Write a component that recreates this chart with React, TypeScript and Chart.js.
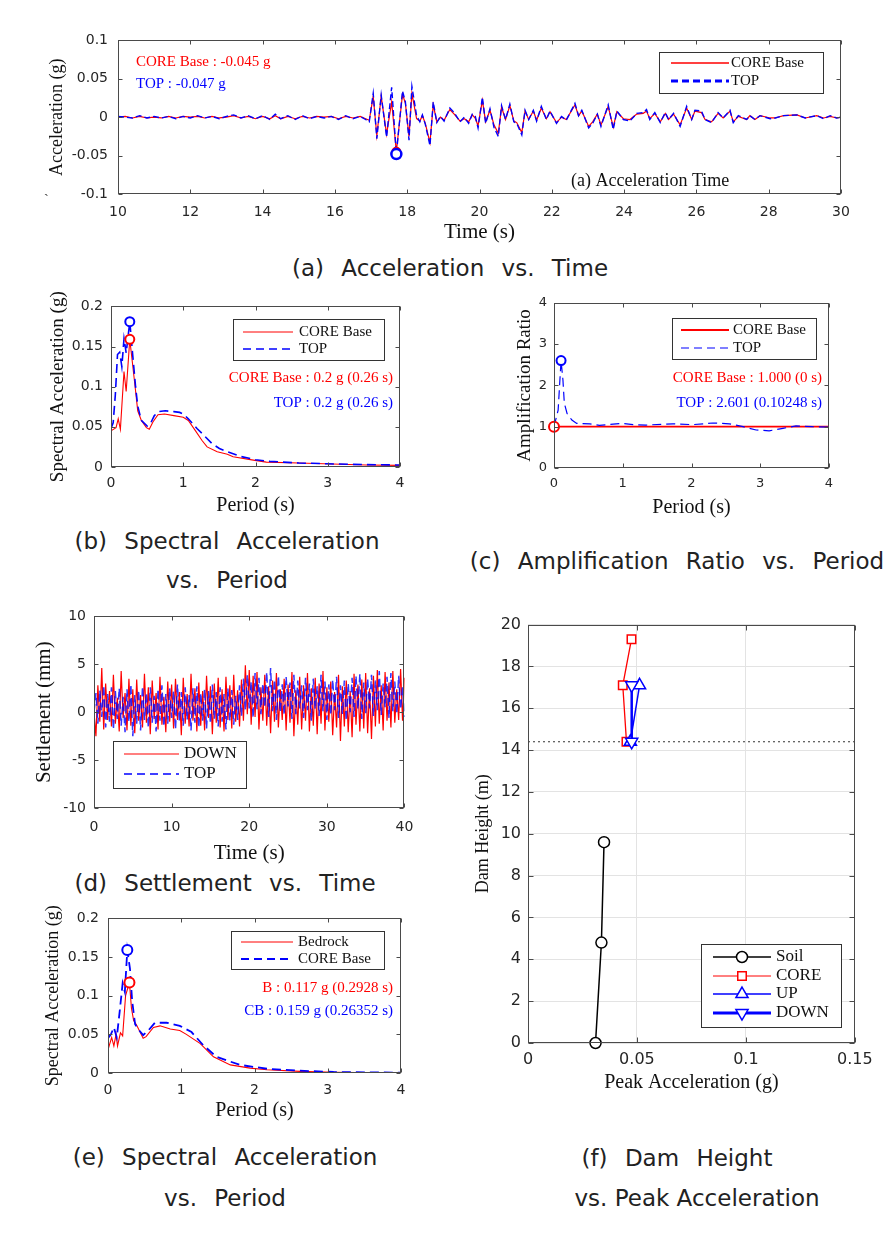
import React, { useEffect, useRef } from "react";
import { Chart, registerables } from "chart.js";

Chart.register(...registerables);

// ================= DATA =================
// (a) Acceleration vs. Time
const accelTime = [
  10.0, 10.2, 10.4, 10.6, 10.8, 11.0, 11.2, 11.4, 11.6, 11.8,
  12.0, 12.2, 12.4, 12.6, 12.8, 13.0, 13.2, 13.4, 13.6, 13.8,
  14.0, 14.2, 14.35, 14.5, 14.7, 14.9, 15.1, 15.3, 15.5, 15.7,
  15.9, 16.1, 16.3, 16.5, 16.7, 16.85,
  16.95, 17.06, 17.16, 17.28, 17.43, 17.57, 17.70, 17.87, 17.95, 18.05,
  18.13, 18.26, 18.35, 18.42, 18.50, 18.63, 18.72, 18.82, 18.92, 19.02,
  19.18, 19.30, 19.46, 19.58, 19.70, 19.80, 19.88, 19.96, 20.08, 20.17,
  20.29, 20.40, 20.52, 20.61, 20.72, 20.84, 20.95, 21.03, 21.17, 21.26,
  21.36, 21.49, 21.58, 21.71, 21.85, 21.95, 22.13, 22.27, 22.40, 22.64,
  22.74, 22.83, 23.02, 23.13, 23.26, 23.36, 23.56, 23.70, 23.80, 23.98,
  24.16, 24.35, 24.53, 24.62, 24.71, 24.85, 25.00, 25.14, 25.23, 25.37,
  25.55, 25.73, 25.87, 25.96, 26.14, 26.24, 26.42, 26.60, 26.74, 26.93,
  27.02, 27.16, 27.39, 27.48, 27.62, 27.76, 28.04, 28.18, 28.41, 28.78,
  29.01, 29.33, 29.52, 29.70, 29.88, 30.00,
];
const accelCoreBase = [
  0.000, 0.001, -0.001, 0.001, -0.001, 0.000, -0.001, 0.001, -0.001, 0.001,
  0.000, 0.001, -0.001, 0.001, -0.001, 0.000, 0.002, -0.001, 0.001, -0.002,
  0.001, -0.002, 0.002, -0.002, 0.001, -0.002, 0.001, -0.001, 0.001, 0.000,
  0.001, -0.002, 0.001, -0.001, 0.001, -0.002,
  -0.004, 0.027, -0.024, 0.027, -0.022, 0.020, -0.045, 0.030, 0.018, -0.025,
  0.031, -0.002, -0.005, 0.002, -0.008, -0.033, 0.016, -0.006, 0.000, -0.004,
  0.010, 0.004, -0.005, -0.002, -0.006, 0.003, -0.001, -0.011, 0.022, -0.006,
  0.009, -0.010, -0.021, 0.013, -0.003, 0.015, -0.005, -0.007, -0.020, 0.008,
  -0.003, 0.008, -0.004, 0.012, -0.002, 0.007, -0.007, 0.000, -0.003, 0.016,
  0.002, 0.008, -0.012, -0.006, 0.004, -0.010, 0.014, -0.013, 0.007, -0.002,
  -0.003, 0.004, 0.005, 0.008, -0.002, 0.005, -0.006, 0.005, -0.003, 0.004,
  -0.010, 0.012, -0.003, 0.008, 0.006, -0.003, -0.006, 0.005, -0.001, 0.008,
  -0.006, 0.001, -0.003, 0.002, -0.003, 0.002, -0.001, -0.001, 0.002, 0.003,
  -0.001, 0.002, -0.001, 0.001, -0.001, 0.000,
];
const accelTop = [
  0.001, 0.000, -0.001, 0.002, -0.001, 0.001, -0.001, 0.001, -0.002, 0.001,
  -0.001, 0.002, -0.001, 0.001, -0.002, 0.001, 0.003, -0.001, 0.002, -0.002,
  0.002, -0.003, 0.004, -0.002, 0.002, -0.003, 0.002, -0.002, 0.001, -0.001,
  0.001, -0.003, 0.002, -0.002, 0.001, -0.003,
  -0.006, 0.031, -0.028, 0.029, -0.026, 0.039, -0.048, 0.034, 0.020, -0.030,
  0.040, 0.002, -0.006, 0.003, -0.009, -0.037, 0.020, -0.007, 0.001, -0.005,
  0.012, 0.006, -0.006, 0.000, -0.008, 0.004, 0.002, -0.014, 0.026, -0.008,
  0.011, -0.013, -0.025, 0.015, -0.003, 0.017, -0.006, -0.008, -0.023, 0.009,
  -0.003, 0.009, -0.005, 0.014, -0.003, 0.008, -0.008, 0.001, -0.004, 0.018,
  0.002, 0.009, -0.014, -0.008, 0.004, -0.012, 0.016, -0.016, 0.008, -0.003,
  -0.005, 0.005, 0.006, 0.010, -0.003, 0.006, -0.007, 0.006, -0.003, 0.005,
  -0.012, 0.014, -0.003, 0.009, 0.008, -0.003, -0.007, 0.006, -0.001, 0.009,
  -0.007, 0.002, -0.003, 0.002, -0.003, 0.002, -0.002, -0.001, 0.002, 0.003,
  -0.001, 0.002, -0.002, 0.002, -0.001, 0.000,
];
const accelPeakTime = [17.7];
const accelPeakCore = [-0.045];
const accelPeakTop = [-0.048];
const accelXTicks = [10, 12, 14, 16, 18, 20, 22, 24, 26, 28, 30];
const accelXLabels = ["10", "12", "14", "16", "18", "20", "22", "24", "26", "28", "30"];
const accelYTicks = [-0.1, -0.05, 0, 0.05, 0.1];
const accelYLabels = ["-0.1", "-0.05", "0", "0.05", "0.1"];

// (b) Spectral acceleration, CORE Base vs TOP
const saCorePeriod = [0, 0.07, 0.1, 0.13, 0.18, 0.21, 0.26, 0.33, 0.37, 0.42, 0.49, 0.53, 0.58, 0.65, 0.74, 0.87, 1.0, 1.07, 1.17, 1.26, 1.33, 1.47, 1.61, 1.69, 1.97, 2.15, 2.6, 3.06, 3.53, 4.0];
const saCoreValue = [0.045, 0.049, 0.06, 0.047, 0.119, 0.094, 0.159, 0.103, 0.07, 0.058, 0.049, 0.047, 0.056, 0.065, 0.066, 0.064, 0.062, 0.058, 0.045, 0.033, 0.025, 0.019, 0.016, 0.0127, 0.0086, 0.0061, 0.0049, 0.0037, 0.0025, 0.002];
const saTopPeriod = [0, 0.03, 0.06, 0.09, 0.12, 0.15, 0.18, 0.21, 0.26, 0.3, 0.34, 0.37, 0.42, 0.5, 0.54, 0.6, 0.66, 0.75, 0.87, 0.95, 1.0, 1.07, 1.19, 1.28, 1.4, 1.5, 1.61, 1.8, 2.0, 2.2, 2.6, 3.0, 3.5, 4.0];
const saTopValue = [0.048, 0.055, 0.09, 0.14, 0.143, 0.125, 0.16, 0.142, 0.181, 0.14, 0.1, 0.076, 0.058, 0.051, 0.053, 0.064, 0.069, 0.07, 0.069, 0.068, 0.066, 0.06, 0.048, 0.04, 0.029, 0.023, 0.019, 0.013, 0.009, 0.007, 0.005, 0.004, 0.003, 0.0025];
const saPeakPeriod = [0.26];
const saPeakCore = [0.159];
const saPeakTop = [0.181];
const periodTicks = [0, 1, 2, 3, 4];
const periodLabels = ["0", "1", "2", "3", "4"];
const saYTicks = [0, 0.05, 0.1, 0.15, 0.2];
const saYLabels = ["0", "0.05", "0.1", "0.15", "0.2"];

// (c) Amplification ratio
const arCorePeriod = [0, 4];
const arCoreValue = [1.0, 1.0];
const arTopPeriod = [0, 0.06, 0.1025, 0.13, 0.15, 0.19, 0.26, 0.33, 0.52, 0.66, 0.86, 0.98, 1.15, 1.34, 1.73, 2.02, 2.31, 2.55, 2.75, 2.94, 3.13, 3.33, 3.52, 3.76, 4.0];
const arTopValue = [1.0, 1.4, 2.601, 2.13, 1.57, 1.32, 1.16, 1.08, 1.07, 1.03, 1.06, 1.08, 1.05, 1.04, 1.07, 1.05, 1.09, 1.07, 1.0, 0.92, 0.9, 0.96, 1.02, 1.0, 0.99];
const arPeakCorePeriod = [0];
const arPeakCoreValue = [1.0];
const arPeakTopPeriod = [0.10248];
const arPeakTopValue = [2.601];
const arYTicks = [0, 1, 2, 3, 4];
const arYLabels = ["0", "1", "2", "3", "4"];

// (d) Settlement vs. Time
const settleTime = [
  0, 0.25, 0.5, 0.75, 1, 1.25, 1.5, 1.75,
  2, 2.25, 2.5, 2.75, 3, 3.25, 3.5, 3.75,
  4, 4.25, 4.5, 4.75, 5, 5.25, 5.5, 5.75,
  6, 6.25, 6.5, 6.75, 7, 7.25, 7.5, 7.75,
  8, 8.25, 8.5, 8.75, 9, 9.25, 9.5, 9.75,
  10, 10.25, 10.5, 10.75, 11, 11.25, 11.5, 11.75,
  12, 12.25, 12.5, 12.75, 13, 13.25, 13.5, 13.75,
  14, 14.25, 14.5, 14.75, 15, 15.25, 15.5, 15.75,
  16, 16.25, 16.5, 16.75, 17, 17.25, 17.5, 17.75,
  18, 18.25, 18.5, 18.75, 19, 19.25, 19.5, 19.75,
  20, 20.25, 20.5, 20.75, 21, 21.25, 21.5, 21.75,
  22, 22.25, 22.5, 22.75, 23, 23.25, 23.5, 23.75,
  24, 24.25, 24.5, 24.75, 25, 25.25, 25.5, 25.75,
  26, 26.25, 26.5, 26.75, 27, 27.25, 27.5, 27.75,
  28, 28.25, 28.5, 28.75, 29, 29.25, 29.5, 29.75,
  30, 30.25, 30.5, 30.75, 31, 31.25, 31.5, 31.75,
  32, 32.25, 32.5, 32.75, 33, 33.25, 33.5, 33.75,
  34, 34.25, 34.5, 34.75, 35, 35.25, 35.5, 35.75,
  36, 36.25, 36.5, 36.75, 37, 37.25, 37.5, 37.75,
  38, 38.25, 38.5, 38.75, 39, 39.25, 39.5, 39.75,
  40,
];
const settleDown = [
  0.0, -2.5, 2.8, -1.0, 4.6, -1.8, 3.0, -0.8,
  2.2, -1.5, 3.9, -1.2, 1.5, -2.0, 4.3, -0.6,
  2.0, -1.9, 3.5, -1.4, 2.4, -2.2, 3.4, -0.9,
  1.8, -1.6, 4.0, -1.1, 2.6, -2.3, 3.3, -0.7,
  2.0, -1.8, 3.7, -1.3, 1.6, -2.1, 3.2, -1.0,
  2.9, -1.7, 3.5, -0.8, 2.1, -2.4, 3.6, -1.2,
  1.9, -1.5, 4.0, -0.9, 2.5, -2.0, 3.1, -1.4,
  2.2, -1.9, 3.8, -0.6, 2.7, -2.3, 3.0, -1.1,
  3.6, -1.6, 2.4, -2.0, 3.7, -0.8, 2.8, -1.7,
  3.9, -1.0, 2.3, -1.5, 3.4, -0.9, 4.9, -0.2,
  4.4, -1.3, 3.8, -0.5, 4.2, -1.8, 2.6, -0.9,
  3.9, -1.4, 2.7, -2.2, 3.3, -1.0, 4.1, -1.6,
  2.4, -0.8, 3.5, -1.9, 2.9, -1.1, 4.2, -2.5,
  2.3, -1.3, 3.7, -1.8, 2.8, -0.9, 4.1, -2.0,
  2.5, -1.4, 3.6, -2.3, 3.0, -1.2, 4.3, -1.9,
  2.6, -1.0, 3.2, -2.4, 2.1, -1.6, 3.9, -3.0,
  2.7, -1.5, 3.3, -2.1, 2.2, -2.6, 4.0, -1.3,
  2.9, -2.0, 3.4, -1.7, 4.1, -2.2, 2.5, -2.8,
  3.8, -1.5, 4.4, -1.2, 2.8, -1.9, 4.2, -0.9,
  3.1, -1.6, 4.3, -1.1, 2.4, -0.8, 4.5, -0.9,
  3.6,
];
const settleTop = [
  0.0, 2.0, -1.2, 2.3, -0.5, 2.8, -1.6, 1.9,
  -1.0, 2.6, -1.8, 2.2, -0.7, 2.5, -1.4, 1.6,
  -2.1, 2.4, -1.0, 2.9, -2.5, 1.8, -1.2, 2.3,
  -1.9, 2.7, -0.8, 2.0, -1.6, 2.6, -1.1, 1.7,
  -2.0, 2.4, -0.9, 2.8, -1.5, 1.9, -1.2, 2.5,
  -0.6, 2.2, -1.8, 2.9, -1.0, 2.1, -1.4, 2.6,
  -0.8, 1.8, -1.9, 2.5, -1.1, 2.7, -1.6, 2.0,
  -0.9, 2.4, -1.7, 2.2, -1.2, 2.9, -0.7, 2.1,
  -1.5, 2.6, -1.0, 1.9, -1.8, 2.5, -0.9, 2.3,
  -1.3, 1.7, -0.8, 2.8, -0.4, 3.5, 0.2, 3.9,
  0.4, 3.2, -0.6, 4.1, 0.3, 3.6, -0.2, 3.0,
  0.5, 4.2, -0.5, 4.6, 0.1, 3.4, -0.8, 3.8,
  0.0, 2.9, -0.3, 3.7, 0.6, 3.1, -0.7, 3.9,
  -0.2, 3.3, 0.4, 2.8, -0.6, 3.6, 0.2, 3.0,
  -0.9, 3.5, 0.3, 2.7, -0.4, 3.9, 0.1, 3.2,
  -0.8, 2.9, -0.3, 3.4, 0.2, 3.7, -0.6, 2.8,
  -0.2, 3.3, -0.9, 3.0, 0.0, 3.6, -0.5, 3.8,
  0.3, 4.0, -0.7, 3.1, -0.1, 3.5, 0.4, 3.9,
  -0.4, 3.3, 0.2, 4.3, -0.3, 3.0, 0.5, 3.7,
  -0.6, 4.1, 0.1, 3.2, -0.2, 3.8, 0.3, 2.6,
  -0.5,
];
const settleXTicks = [0, 10, 20, 30, 40];
const settleXLabels = ["0", "10", "20", "30", "40"];
const settleYTicks = [-10, -5, 0, 5, 10];
const settleYLabels = ["-10", "-5", "0", "5", "10"];

// (e) Spectral acceleration, Bedrock vs CORE Base
const seBedPeriod = [0, 0.05, 0.08, 0.11, 0.13, 0.17, 0.2, 0.24, 0.2928, 0.32, 0.35, 0.39, 0.48, 0.52, 0.62, 0.71, 0.85, 0.98, 1.07, 1.26, 1.44, 1.67, 1.94, 2.17, 2.62, 3.08, 4.0];
const seBedValue = [0.03, 0.046, 0.035, 0.05, 0.035, 0.052, 0.048, 0.1, 0.117, 0.084, 0.068, 0.062, 0.045, 0.047, 0.059, 0.061, 0.057, 0.055, 0.05, 0.038, 0.021, 0.0105, 0.0063, 0.0042, 0.0021, 0.0008, 0.0];
const seCorePeriod = [0, 0.04, 0.08, 0.12, 0.16, 0.2, 0.23, 0.26352, 0.3, 0.33, 0.37, 0.41, 0.48, 0.55, 0.64, 0.8, 0.98, 1.14, 1.3, 1.48, 1.8, 2.17, 2.62, 3.08, 4.0];
const seCoreValue = [0.045, 0.05, 0.059, 0.046, 0.08, 0.116, 0.105, 0.159, 0.135, 0.093, 0.063, 0.057, 0.049, 0.055, 0.065, 0.065, 0.061, 0.053, 0.036, 0.021, 0.0105, 0.0055, 0.003, 0.0013, 0.0005];
const sePeakBedPeriod = [0.2928];
const sePeakBedValue = [0.117];
const sePeakCorePeriod = [0.26352];
const sePeakCoreValue = [0.159];

// (f) Dam height vs. peak acceleration
const soilAcc = [0.031, 0.0337, 0.0349];
const soilHeight = [0, 4.8, 9.6];
const coreAcc = [0.0452, 0.0435, 0.0475];
const coreHeight = [14.4, 17.1, 19.3];
const upAcc = [0.047, 0.0512];
const upHeight = [14.4, 17.1];
const downAcc = [0.0476, 0.0476];
const downHeight = [14.4, 17.1];
const crestLineAcc = [0, 0.15];
const crestLineHeight = [14.4, 14.4];
const damXTicks = [0, 0.05, 0.1, 0.15];
const damXLabels = ["0", "0.05", "0.1", "0.15"];
const damYTicks = [0, 2, 4, 6, 8, 10, 12, 14, 16, 18, 20];
const damYLabels = ["0", "2", "4", "6", "8", "10", "12", "14", "16", "18", "20"];

// captions
const captionLines = [
  "(a) Acceleration vs. Time",
  "(b) Spectral Acceleration",
  "vs. Period",
  "(c) Amplification Ratio vs. Period",
  "(d) Settlement vs. Time",
  "(e) Spectral Acceleration",
  "vs. Period",
  "(f) Dam Height",
  "vs. Peak Acceleration",
];

// ================= STYLE =================
const RED = "#ff0000";
const BLUE = "#0000ff";
const BLACK = "#000000";
const SERIF = '"Liberation Serif", "Times New Roman", serif';
const SANS = '"DejaVu Sans", sans-serif';
const CAPTION_FONT = '"DejaVu Sans", sans-serif';
const FRAME = "#4a4a4a";
const TICKTXT = "#262626";

const captionPos = [
  [450, 268], [227, 541], [227, 580], [677, 561], [225, 883],
  [225, 1157], [225, 1198], [677, 1158], [697, 1198],
];
const captionWordSpacing = [10, 10, 10, 10, 10, 10, 10, 10, 0];

const pts = (xs: number[], ys: number[]) => xs.map((x, i) => ({ x, y: ys[i] }));

function lineDs(label: string, xs: number[], ys: number[], color: string, width: number, dash: number[] = [], extra: any = {}) {
  return {
    label, data: pts(xs, ys), showLine: true, borderColor: color, backgroundColor: color,
    borderWidth: width, borderDash: dash, pointRadius: 0, pointHoverRadius: 0, tension: 0, fill: false,
    ...extra,
  };
}
function markerDs(label: string, xs: number[], ys: number[], color: string, r: number, lw = 2) {
  return {
    label, data: pts(xs, ys), showLine: false, pointBorderColor: color, pointBackgroundColor: "#ffffff",
    pointRadius: r, pointHoverRadius: r, pointBorderWidth: lw, pointStyle: "circle", clip: false,
  };
}

function drawMarker(ctx: CanvasRenderingContext2D, style: string, x: number, y: number, r: number, color: string, lw: number) {
  ctx.save();
  ctx.setLineDash([]);
  ctx.strokeStyle = color;
  ctx.lineWidth = lw;
  ctx.fillStyle = "#ffffff";
  ctx.beginPath();
  if (style === "circle") {
    ctx.arc(x, y, r, 0, Math.PI * 2);
  } else if (style === "rect") {
    const s = r * Math.SQRT1_2;
    ctx.rect(x - s, y - s, 2 * s, 2 * s);
  } else {
    let rad = style === "triangle" ? 0 : Math.PI;
    ctx.moveTo(x + Math.sin(rad) * r, y - Math.cos(rad) * r);
    rad += (2 * Math.PI) / 3;
    ctx.lineTo(x + Math.sin(rad) * r, y - Math.cos(rad) * r);
    rad += (2 * Math.PI) / 3;
    ctx.lineTo(x + Math.sin(rad) * r, y - Math.cos(rad) * r);
    ctx.closePath();
  }
  ctx.fill();
  ctx.stroke();
  ctx.restore();
}

const overlayPlugin = {
  id: "overlay",
  afterDatasetsDraw(chart: any, _args: any, opts: any) {
    const { ctx, chartArea: ca, scales } = chart;
    const [ox, oy] = opts.origin || [0, 0];
    ctx.save();
    ctx.setLineDash([]);
    // frame
    ctx.strokeStyle = FRAME;
    ctx.lineWidth = 1;
    const L = Math.round(ca.left) + 0.5, R = Math.round(ca.right) - 0.5;
    const T = Math.round(ca.top) + 0.5, B = Math.round(ca.bottom) - 0.5;
    ctx.strokeRect(L, T, R - L, B - T);
    const tl = opts.tickLen || 4;
    ctx.beginPath();
    scales.x.ticks.forEach((t: any) => {
      const px = Math.round(scales.x.getPixelForValue(t.value)) + 0.5;
      ctx.moveTo(px, B); ctx.lineTo(px, B - tl);
      ctx.moveTo(px, T); ctx.lineTo(px, T + tl);
    });
    scales.y.ticks.forEach((t: any) => {
      const py = Math.round(scales.y.getPixelForValue(t.value)) + 0.5;
      ctx.moveTo(L, py); ctx.lineTo(L + tl, py);
      ctx.moveTo(R, py); ctx.lineTo(R - tl, py);
    });
    ctx.stroke();
    // legend
    const lg = opts.legend;
    if (lg) {
      ctx.fillStyle = "#ffffff";
      ctx.fillRect(lg.x1 - ox, lg.y1 - oy, lg.x2 - lg.x1, lg.y2 - lg.y1);
      ctx.strokeStyle = "#333333";
      ctx.lineWidth = 1;
      ctx.strokeRect(Math.round(lg.x1 - ox) + 0.5, Math.round(lg.y1 - oy) + 0.5, Math.round(lg.x2 - lg.x1), Math.round(lg.y2 - lg.y1));
      lg.rows.forEach((r: any) => {
        ctx.save();
        ctx.strokeStyle = r.color;
        ctx.lineWidth = r.width;
        ctx.setLineDash(r.dash || []);
        ctx.beginPath();
        ctx.moveTo(lg.lx1 - ox, r.y - oy);
        ctx.lineTo(lg.lx2 - ox, r.y - oy);
        ctx.stroke();
        ctx.restore();
        if (r.marker) drawMarker(ctx, r.marker, (lg.lx1 + lg.lx2) / 2 - ox, r.y - oy, r.mr, r.color, r.mw || 1.5);
        ctx.fillStyle = "#111111";
        ctx.font = lg.font;
        ctx.textAlign = "left";
        ctx.textBaseline = "middle";
        ctx.fillText(r.label, lg.tx - ox, r.y - oy);
      });
    }
    // notes
    (opts.notes || []).forEach((n: any) => {
      ctx.fillStyle = n.color;
      ctx.font = n.font;
      ctx.textAlign = n.align || "left";
      ctx.textBaseline = "middle";
      ctx.fillText(n.text, n.x - ox, n.y - oy);
    });
    ctx.restore();
  },
};

// ================= PANELS =================
const specs: any[] = [
  {
    id: "a",
    plot: { l: 118, t: 36, r: 841, b: 194 },
    canvas: { l: 46, t: 22, r: 860, b: 245 },
    x: { min: 10, max: 30, ticks: accelXTicks, labels: accelXLabels, pad: 9.6, title: "Time (s)", tsize: 21, fsize: 14 },
    y: { min: -0.1, max: 0.1, ticks: accelYTicks, labels: accelYLabels, pad: 10, title: "Acceleration (g)", tsize: 18, fsize: 14 },
    datasets: [
      markerDs("TOP peak", accelPeakTime, accelPeakTop, BLUE, 5, 2.5),
      markerDs("CORE Base peak", accelPeakTime, accelPeakCore, RED, 4, 2),
      lineDs("TOP", accelTime, accelTop, BLUE, 1.4, [6, 3]),
      lineDs("CORE Base", accelTime, accelCoreBase, RED, 1.2),
    ],
    legend: {
      x1: 659, y1: 52, x2: 823, y2: 93, lx1: 671, lx2: 729, tx: 731, font: `15px ${SERIF}`,
      rows: [
        { label: "CORE Base", y: 63, color: RED, width: 1.5 },
        { label: "TOP", y: 81, color: BLUE, width: 3, dash: [7, 4] },
      ],
    },
    notes: [
      { text: "CORE Base : -0.045 g", x: 136, y: 62, color: RED, font: `15px ${SERIF}` },
      { text: "TOP : -0.047 g", x: 136, y: 84, color: BLUE, font: `15px ${SERIF}` },
      { text: "(a) Acceleration Time", x: 571, y: 181, color: "#111111", font: `18px ${SERIF}` },
    ],
  },
  {
    id: "b",
    plot: { l: 111, t: 304, r: 400, b: 467 },
    canvas: { l: 47, t: 290, r: 415, b: 518 },
    x: { min: 0, max: 4, ticks: periodTicks, labels: periodLabels, pad: 7.6, title: "Period (s)", tsize: 20, fsize: 14 },
    y: { min: 0, max: 0.2, ticks: saYTicks, labels: saYLabels, pad: 8, title: "Spectral Acceleration (g)", tsize: 19, fsize: 14 },
    datasets: [
      markerDs("TOP peak", saPeakPeriod, saPeakTop, BLUE, 4.5, 2),
      markerDs("CORE Base peak", saPeakPeriod, saPeakCore, RED, 4.5, 2),
      lineDs("TOP", saTopPeriod, saTopValue, BLUE, 1.6, [9, 5]),
      lineDs("CORE Base", saCorePeriod, saCoreValue, RED, 1.1),
    ],
    legend: {
      x1: 233, y1: 319, x2: 384, y2: 360, lx1: 243, lx2: 293, tx: 299, font: `15px ${SERIF}`,
      rows: [
        { label: "CORE Base", y: 332, color: RED, width: 1 },
        { label: "TOP", y: 349, color: BLUE, width: 1.5, dash: [8, 5] },
      ],
    },
    notes: [
      { text: "CORE Base : 0.2 g (0.26 s)", x: 393, y: 378, color: RED, align: "right", font: `15px ${SERIF}` },
      { text: "TOP : 0.2 g (0.26 s)", x: 393, y: 403, color: BLUE, align: "right", font: `15px ${SERIF}` },
    ],
  },
  {
    id: "c",
    plot: { l: 554, t: 302, r: 829, b: 468 },
    canvas: { l: 514, t: 288, r: 845, b: 520 },
    x: { min: 0, max: 4, ticks: periodTicks, labels: periodLabels, pad: 8.2, title: "Period (s)", tsize: 20, fsize: 13 },
    y: { min: 0, max: 4, ticks: arYTicks, labels: arYLabels, pad: 7, title: "Amplification Ratio", tsize: 19, fsize: 13 },
    datasets: [
      markerDs("TOP peak", arPeakTopPeriod, arPeakTopValue, BLUE, 4.5, 2),
      markerDs("CORE Base peak", arPeakCorePeriod, arPeakCoreValue, RED, 5, 2),
      lineDs("TOP", arTopPeriod, arTopValue, BLUE, 1.2, [9, 5]),
      lineDs("CORE Base", arCorePeriod, arCoreValue, RED, 1.8),
    ],
    legend: {
      x1: 672, y1: 318, x2: 816, y2: 359, lx1: 681, lx2: 729, tx: 733, font: `15px ${SERIF}`,
      rows: [
        { label: "CORE Base", y: 330, color: RED, width: 2 },
        { label: "TOP", y: 348, color: BLUE, width: 1.2, dash: [8, 5] },
      ],
    },
    notes: [
      { text: "CORE Base : 1.000 (0 s)", x: 822, y: 378, color: RED, align: "right", font: `15px ${SERIF}` },
      { text: "TOP : 2.601 (0.10248 s)", x: 822, y: 403, color: BLUE, align: "right", font: `15px ${SERIF}` },
    ],
  },
  {
    id: "d",
    plot: { l: 94, t: 614, r: 408, b: 808 },
    canvas: { l: 32, t: 600, r: 424, b: 866 },
    x: { min: 0, max: 40, ticks: settleXTicks, labels: settleXLabels, pad: 10.6, title: "Time (s)", tsize: 21, fsize: 14 },
    y: { min: -10, max: 10, ticks: settleYTicks, labels: settleYLabels, pad: 8, title: "Settlement (mm)", tsize: 21, fsize: 14 },
    datasets: [
      lineDs("TOP", settleTime, settleTop, "rgba(0,0,255,0.8)", 1.5, [8, 4]),
      lineDs("DOWN", settleTime, settleDown, RED, 1.2),
    ],
    legend: {
      x1: 113, y1: 741, x2: 246, y2: 788, lx1: 124, lx2: 179, tx: 184, font: `17px ${SERIF}`,
      rows: [
        { label: "DOWN", y: 754, color: RED, width: 1.2 },
        { label: "TOP", y: 774, color: BLUE, width: 1.5, dash: [8, 5] },
      ],
    },
    notes: [],
  },
  {
    id: "e",
    plot: { l: 108, t: 915, r: 401, b: 1073 },
    canvas: { l: 42, t: 901, r: 416, b: 1123 },
    x: { min: 0, max: 4, ticks: periodTicks, labels: periodLabels, pad: 8.6, title: "Period (s)", tsize: 20, fsize: 14 },
    y: { min: 0, max: 0.2, ticks: saYTicks, labels: saYLabels, pad: 9, title: "Spectral Acceleration (g)", tsize: 18, fsize: 14 },
    datasets: [
      markerDs("CB peak", sePeakCorePeriod, sePeakCoreValue, BLUE, 5, 2),
      markerDs("B peak", sePeakBedPeriod, sePeakBedValue, RED, 5, 2),
      lineDs("CORE Base", seCorePeriod, seCoreValue, BLUE, 1.8, [9, 5]),
      lineDs("Bedrock", seBedPeriod, seBedValue, RED, 1.1),
    ],
    legend: {
      x1: 231, y1: 931, x2: 384, y2: 969, lx1: 241, lx2: 293, tx: 298, font: `15px ${SERIF}`,
      rows: [
        { label: "Bedrock", y: 942, color: RED, width: 1 },
        { label: "CORE Base", y: 959, color: BLUE, width: 1.8, dash: [8, 5] },
      ],
    },
    notes: [
      { text: "B : 0.117 g (0.2928 s)", x: 393, y: 988, color: RED, align: "right", font: `15px ${SERIF}` },
      { text: "CB : 0.159 g (0.26352 s)", x: 393, y: 1011, color: BLUE, align: "right", font: `15px ${SERIF}` },
    ],
  },
  {
    id: "f",
    grid: true,
    tickLen: 5,
    plot: { l: 528, t: 622, r: 857, b: 1043 },
    canvas: { l: 472, t: 608, r: 880, b: 1095 },
    x: { min: 0, max: 0.15, ticks: damXTicks, labels: damXLabels, pad: 7.4, title: "Peak Acceleration (g)", tsize: 20, fsize: 16 },
    y: { min: 0, max: 20, ticks: damYTicks, labels: damYLabels, pad: 7, title: "Dam Height (m)", tsize: 18, fsize: 16 },
    datasets: [
      lineDs("DOWN", downAcc, downHeight, BLUE, 2.5, [], { pointRadius: 7, pointStyle: "triangle", pointRotation: 180, pointBorderColor: BLUE, pointBackgroundColor: "#ffffff", pointBorderWidth: 1.5, clip: false }),
      lineDs("UP", upAcc, upHeight, BLUE, 1.5, [], { pointRadius: 7, pointStyle: "triangle", pointBorderColor: BLUE, pointBackgroundColor: "#ffffff", pointBorderWidth: 1.5, clip: false }),
      lineDs("CORE", coreAcc, coreHeight, RED, 1.3, [], { pointRadius: 6, pointStyle: "rect", pointBorderColor: RED, pointBackgroundColor: "#ffffff", pointBorderWidth: 1.5, clip: false }),
      lineDs("Soil", soilAcc, soilHeight, BLACK, 1.5, [], { pointRadius: 5.5, pointStyle: "circle", pointBorderColor: BLACK, pointBackgroundColor: "#ffffff", pointBorderWidth: 1.5, clip: false }),
      lineDs("crest", crestLineAcc, crestLineHeight, "#333333", 1, [2, 3]),
    ],
    legend: {
      x1: 701, y1: 944, x2: 841, y2: 1027, lx1: 713, lx2: 771, tx: 776, font: `17px ${SERIF}`,
      rows: [
        { label: "Soil", y: 957, color: BLACK, width: 1.5, marker: "circle", mr: 5.5 },
        { label: "CORE", y: 976, color: RED, width: 1, marker: "rect", mr: 6 },
        { label: "UP", y: 994, color: BLUE, width: 1.5, marker: "triangle", mr: 7 },
        { label: "DOWN", y: 1013, color: BLUE, width: 3, marker: "triangleDown", mr: 7 },
      ],
    },
    notes: [],
  },
];

function buildConfig(spec: any): any {
  const { plot, canvas } = spec;
  const axis = (ax: any, horizontal: boolean) => ({
    type: "linear",
    position: horizontal ? "bottom" : "left",
    min: ax.min,
    max: ax.max,
    afterFit: (s: any) => {
      if (horizontal) s.height = canvas.b - plot.b;
      else s.width = plot.l - canvas.l;
    },
    afterBuildTicks: (s: any) => {
      s.ticks = ax.ticks.map((v: number) => ({ value: v }));
    },
    ticks: {
      autoSkip: false,
      maxRotation: 0,
      minRotation: 0,
      padding: ax.pad,
      color: TICKTXT,
      font: { family: SANS, size: ax.fsize },
      callback: (_v: any, i: number) => ax.labels[i],
    },
    grid: { display: !!spec.grid, color: "#e3e3e3", lineWidth: 1, drawTicks: false },
    border: { display: false },
    title: {
      display: true,
      text: ax.title,
      color: "#111111",
      font: { family: SERIF, size: ax.tsize },
      padding: 0,
    },
  });
  return {
    type: "scatter",
    data: { datasets: spec.datasets },
    options: {
      responsive: false,
      animation: false,
      devicePixelRatio: 1,
      events: [],
      layout: { padding: { top: plot.t - canvas.t, right: canvas.r - plot.r, left: 0, bottom: 0 } },
      plugins: {
        legend: { display: false },
        tooltip: { enabled: false },
        overlay: { origin: [canvas.l, canvas.t], legend: spec.legend, notes: spec.notes, tickLen: spec.tickLen || 4 },
      },
      scales: { x: axis(spec.x, true), y: axis(spec.y, false) },
    },
    plugins: [overlayPlugin],
  };
}

function Panel({ spec }: { spec: any }) {
  const ref = useRef<HTMLCanvasElement | null>(null);
  useEffect(() => {
    if (!ref.current) return;
    const chart = new Chart(ref.current, buildConfig(spec));
    return () => chart.destroy();
  }, [spec]);
  const c = spec.canvas;
  const w = c.r - c.l;
  const h = c.b - c.t;
  return (
    <canvas
      ref={ref}
      width={w}
      height={h}
      style={{ position: "absolute", left: c.l, top: c.t, width: w, height: h }}
    />
  );
}

export default function App() {
  return (
    <div style={{ position: "absolute", left: 0, top: 0, width: 890, height: 1242, background: "#ffffff", overflow: "hidden" }}>
      {specs.map((s) => (
        <Panel key={s.id} spec={s} />
      ))}
      {captionLines.map((t, i) => (
        <div
          key={i}
          style={{
            position: "absolute",
            left: captionPos[i][0],
            top: captionPos[i][1],
            transform: "translate(-50%, -50%)",
            whiteSpace: "nowrap",
            font: `23px ${CAPTION_FONT}`,
            wordSpacing: captionWordSpacing[i],
            color: "#222222",
            lineHeight: 1,
          }}
        >
          {t}
        </div>
      ))}
      <div style={{ position: "absolute", left: 44, top: 192, font: `14px ${SERIF}`, color: "#333333" }}>`</div>
    </div>
  );
}
